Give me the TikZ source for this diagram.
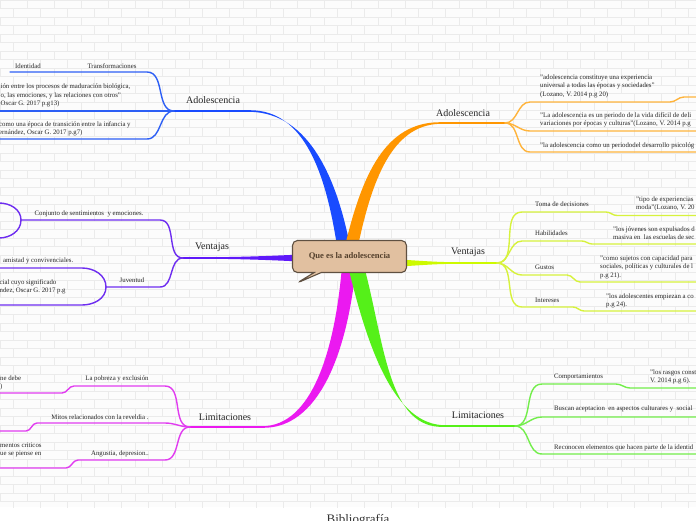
\documentclass[tikz,border=0pt]{standalone}
\usepackage{fontspec}
\setmainfont{Liberation Serif}
\usetikzlibrary{shapes.callouts}
\definecolor{blueM}{RGB}{25,75,255}
\definecolor{blueS}{RGB}{45,95,245}
\definecolor{purpM}{RGB}{95,25,250}
\definecolor{purpS}{RGB}{110,45,240}
\definecolor{magM}{RGB}{235,25,240}
\definecolor{magS}{RGB}{225,60,240}
\definecolor{orM}{RGB}{255,150,0}
\definecolor{orS}{RGB}{255,180,60}
\definecolor{yeM}{RGB}{205,250,0}
\definecolor{yeS}{RGB}{215,242,60}
\definecolor{grM}{RGB}{85,240,25}
\definecolor{grS}{RGB}{115,238,75}
\definecolor{rootF}{RGB}{225,192,160}
\definecolor{rootD}{RGB}{95,80,65}
\definecolor{rootT}{RGB}{85,65,45}

\begin{document}
\begin{tikzpicture}[
  x=1pt, y=-1pt,
  brk/.style={draw=black!8, line width=0.5pt},
  lbl/.style={font=\fontsize{10}{12}\selectfont, text=black!85, inner sep=0pt},
  sml/.style={font=\fontsize{6.8}{8.3}\selectfont, text=black!85, inner sep=0pt},
  blk/.style={sml, align=left, anchor=north west},
  sub/.style={draw=#1, line width=1.4pt, line cap=round},
  mainln/.style={draw=#1, line width=1.7pt},
  root/.style={rectangle callout, callout absolute pointer={(297,283)},
               rounded corners=5pt, draw=rootD, line width=1.1pt, fill=rootF,
               minimum width=114pt, minimum height=32pt, inner sep=2pt,
               font=\bfseries\fontsize{8.6}{10}\selectfont, text=rootT}
]
\clip (0,0) rectangle (696,520);
\fill[white] (0,0) rectangle (696,520);
% brick wall
\begin{scope}
  \clip (0,0) rectangle (696,507);
  \fill[black!1] (0,0) rectangle (696,507);
  \foreach \r in {0,...,59}{
    \draw[brk] (0,\r*8.5) -- (696,\r*8.5);
    \pgfmathsetmacro\sh{mod(\r,2)*13.5}
    \foreach \k in {0,...,26}
      \draw[brk] (\sh+\k*27,\r*8.5) -- ++(0,8.5);
  }
\end{scope}

% junctions and branch points
\coordinate (c) at (349.5,256.5);
\coordinate (adoLe) at (250,111);   \coordinate (jAdoL) at (174,111);
\coordinate (venLe) at (205,258);   \coordinate (jVenL) at (183,258);
\coordinate (limLe) at (262,427);   \coordinate (jLimL) at (190,427);
\coordinate (adoRe) at (440,123);   \coordinate (jAdoR) at (505,123);
\coordinate (venRe) at (460,263);   \coordinate (jVenR) at (497,263);
\coordinate (limRe) at (445,426);   \coordinate (jLimR) at (515,426);

% main branches
\fill[blueM] (337,246) .. controls (326,175) and (305,110.2) .. (250,110.2)
  -- (250,111.8) .. controls (310,113) and (337,180) .. (350,246) -- cycle;
\fill[orM] (345,246) .. controls (362,175) and (385,122.2) .. (440,122.2)
  -- (440,123.8) .. controls (392,125) and (372,180) .. (358,246) -- cycle;
\fill[magM] (342,266) .. controls (335,350) and (312,426.2) .. (262,426.2)
  -- (262,427.8) .. controls (318,429) and (347,355) .. (356,266) -- cycle;
\fill[grM] (348,266) .. controls (368,350) and (395,425.2) .. (445,425.2)
  -- (445,426.8) .. controls (388,430) and (385,345) .. (364,266) -- cycle;
\fill[purpM] (300,254.5) .. controls (260,256.5) and (230,257.2) .. (205,257.2)
  -- (205,258.8) .. controls (230,258.8) and (260,259.5) .. (300,261.5) -- cycle;
\fill[yeM] (400,259.5) .. controls (430,261.5) and (440,262.2) .. (460,262.2)
  -- (460,263.8) .. controls (440,263.8) and (430,264.5) .. (400,266.5) -- cycle;
\draw[mainln=blueM] (adoLe) -- (jAdoL);
\draw[mainln=purpM] (venLe) -- (jVenL);
\draw[mainln=magM] (limLe) -- (jLimL);
\draw[mainln=orM] (adoRe) -- (jAdoR);
\draw[mainln=yeM] (venRe) -- (jVenR);
\draw[mainln=grM] (limRe) -- (jLimR);

% left: Adolescencia
\coordinate (traA) at (147,72);  \coordinate (ideD) at (10,72);
\coordinate (madD) at (-2,111);
\coordinate (infA) at (147,139); \coordinate (infD) at (-2,139);
\draw[sub=blueS] (jAdoL) to[out=180,in=0] (traA) -- (ideD);
\draw[sub=blueS] (jAdoL) -- (madD);
\draw[sub=blueS] (jAdoL) to[out=180,in=0] (infA) -- (infD);

% left: Ventajas
\coordinate (conA) at (160,220); \coordinate (conB) at (21,220);
\coordinate (conT) at (-1,203);  \coordinate (conU) at (-1,238);
\coordinate (juvA) at (160,287); \coordinate (juvB) at (106,287);
\coordinate (amiA) at (82,268);  \coordinate (amiD) at (-1,268);
\coordinate (sigA) at (82,305);  \coordinate (sigD) at (-1,305);
\draw[sub=purpS] (jVenL) to[out=180,in=0] (conA) -- (conB);
\draw[sub=purpS] (conB) to[out=90,in=0] (conT);
\draw[sub=purpS] (conB) to[out=-90,in=0] (conU);
\draw[sub=purpS] (jVenL) to[out=180,in=0] (juvA) -- (juvB);
\draw[sub=purpS] (juvB) to[out=90,in=0] (amiA) -- (amiD);
\draw[sub=purpS] (juvB) to[out=-90,in=0] (sigA) -- (sigD);

% left: Limitaciones
\coordinate (pobA) at (165,386); \coordinate (pobB) at (74,386);
\coordinate (pobC) at (62,393);  \coordinate (pobD) at (-1,393);
\coordinate (mitA) at (165,423); \coordinate (mitB) at (37,423);
\coordinate (mitC) at (26,431);  \coordinate (mitD) at (-1,431);
\coordinate (angA) at (165,460); \coordinate (angB) at (78,460);
\coordinate (angC) at (66,468);  \coordinate (angD) at (-1,468);
\draw[sub=magS] (jLimL) to[out=180,in=0] (pobA) -- (pobB) to[out=180,in=0] (pobC) -- (pobD);
\draw[sub=magS] (jLimL) to[out=180,in=0] (mitA) -- (mitB) to[out=180,in=0] (mitC) -- (mitD);
\draw[sub=magS] (jLimL) to[out=180,in=0] (angA) -- (angB) to[out=180,in=0] (angC) -- (angD);

% right: Adolescencia
\coordinate (uniA) at (530,102); \coordinate (uniB) at (670,102);
\coordinate (uniC) at (684,97);  \coordinate (uniD) at (697,97);
\coordinate (difA) at (530,131); \coordinate (difD) at (697,131);
\coordinate (psiA) at (530,152); \coordinate (psiD) at (697,152);
\draw[sub=orS] (jAdoR) to[out=0,in=180] (uniA) -- (uniB) to[out=0,in=180] (uniC) -- (uniD);
\draw[sub=orS] (jAdoR) to[out=0,in=180] (difA) -- (difD);
\draw[sub=orS] (jAdoR) to[out=0,in=180] (psiA) -- (psiD);

% right: Ventajas
\coordinate (tomA) at (522,212); \coordinate (tomB) at (606,212);
\coordinate (tomC) at (617,215.5); \coordinate (tomD) at (697,215.5);
\coordinate (habA) at (522,241); \coordinate (habB) at (582,241);
\coordinate (habC) at (592,244); \coordinate (habD) at (697,244);
\coordinate (gusA) at (522,275); \coordinate (gusB) at (567,275);
\coordinate (gusC) at (580,282); \coordinate (gusD) at (697,282);
\coordinate (intA) at (522,307); \coordinate (intB) at (573,307);
\coordinate (intC) at (584,311); \coordinate (intD) at (697,311);
\draw[sub=yeS] (jVenR) to[out=0,in=180] (tomA) -- (tomB) to[out=0,in=180] (tomC) -- (tomD);
\draw[sub=yeS] (jVenR) to[out=0,in=180] (habA) -- (habB) to[out=0,in=180] (habC) -- (habD);
\draw[sub=yeS] (jVenR) to[out=0,in=180] (gusA) -- (gusB) to[out=0,in=180] (gusC) -- (gusD);
\draw[sub=yeS] (jVenR) to[out=0,in=180] (intA) -- (intB) to[out=0,in=180] (intC) -- (intD);

% right: Limitaciones
\coordinate (comA) at (542,384); \coordinate (comB) at (616,384);
\coordinate (comC) at (630,388); \coordinate (comD) at (697,388);
\coordinate (busA) at (542,417); \coordinate (busD) at (697,417);
\coordinate (recA) at (542,454); \coordinate (recD) at (697,454);
\draw[sub=grS] (jLimR) to[out=0,in=180] (comA) -- (comB) to[out=0,in=180] (comC) -- (comD);
\draw[sub=grS] (jLimR) to[out=0,in=180] (busA) -- (busD);
\draw[sub=grS] (jLimR) to[out=0,in=180] (recA) -- (recD);

% main labels
\node[lbl] (adoL) at (213,100) {Adolescencia};
\node[lbl] (venL) at (212,247) {Ventajas};
\node[lbl] (limL) at (225,417) {Limitaciones};
\node[lbl] (adoR) at (463,113) {Adolescencia};
\node[lbl] (venR) at (468,252) {Ventajas};
\node[lbl] (limR) at (478,415) {Limitaciones};

% left texts
\node[sml] (ide) at (28,66) {Identidad};
\node[sml] (trf) at (112,66) {Transformaciones};
\node[blk] (mad) at (0.5,84) {ión entre los procesos de maduración biológica,\\o, las emociones, y las relaciones con otros"\\Oscar G. 2017 p.g13)};
\node[blk] (inf) at (-1,121.7) {como una época de transición entre la infancia y\\ernández, Oscar G. 2017 p.g7)};
\node[sml] (con) at (89,214) {Conjunto de sentimientos~ y emociones.};
\node[sml] (juv) at (132,280) {Juventud};
\node[sml, anchor=west] (ami) at (3,260.5) {amistad y convivenciales.};
\node[blk] (sig) at (-0.5,279.7) {cial cuyo significado\\ndez, Oscar G. 2017 p.g};
\node[sml] (pob) at (117,379) {La pobreza y exclusión};
\node[blk] (deb) at (0,375.7) {ne debe\\)};
\node[sml] (mit) at (100,417) {Mitos relacionados con la reveldia .};
\node[sml] (ang) at (120,454) {Angustia, depresion..};
\node[blk] (cri) at (0,442.7) {mentos criticos\\ue se piense en};

% right texts
\node[blk] (uni) at (540,74.7) {"adolescencia constituye una experiencia\\universal a todas las épocas y sociedades"\\(Lozano, V. 2014 p.g 20)};
\node[blk] (dif) at (540,112.5) {"La adolescencia es un periodo de la vida difícil de deli\\variaciones por épocas y culturas"(Lozano, V. 2014 p.g};
\node[sml, anchor=west] (psi) at (540,145.5) {"la adolescencia como un periododel desarrollo psicológ};
\node[sml, anchor=west] (tom) at (535,204) {Toma de decisiones};
\node[sml, anchor=west] (hab) at (535,233.5) {Habilidades};
\node[sml, anchor=west] (gus) at (535,267) {Gustos};
\node[sml, anchor=west] (int) at (535,300.5) {Intereses};
\node[blk] (tip) at (636,196.5) {"tipo de experiencias\\moda"(Lozano, V. 20};
\node[blk] (jov) at (613,226.5) {"los jóvenes son expulsados d\\masiva en~ las escuelas de sec};
\node[blk] (suj) at (600,255.5) {"como sujetos con capacidad para\\sociales, políticas y culturales de l\\p.g 21).};
\node[blk] (emp) at (606,293.5) {"los adolescentes empiezan a co\\p.g 24).};
\node[sml, anchor=west] (com) at (554,377) {Comportamientos};
\node[blk] (ras) at (650,369.5) {"los rasgos const\\V. 2014 p.g 6).};
\node[sml, anchor=west] (bus) at (554,409) {Buscan aceptacion~ en aspectos culturares y~ social};
\node[sml, anchor=west] (rec) at (554,448) {Reconocen elementos que hacen parte de la identid};

% central topic
\node[root] (root) at (c) {Que es la adolescencia};

\node[font=\fontsize{13}{15}\selectfont, text=black!80, anchor=base] (bib) at (358,523.6) {Bibliografía};
\end{tikzpicture}
\end{document}
